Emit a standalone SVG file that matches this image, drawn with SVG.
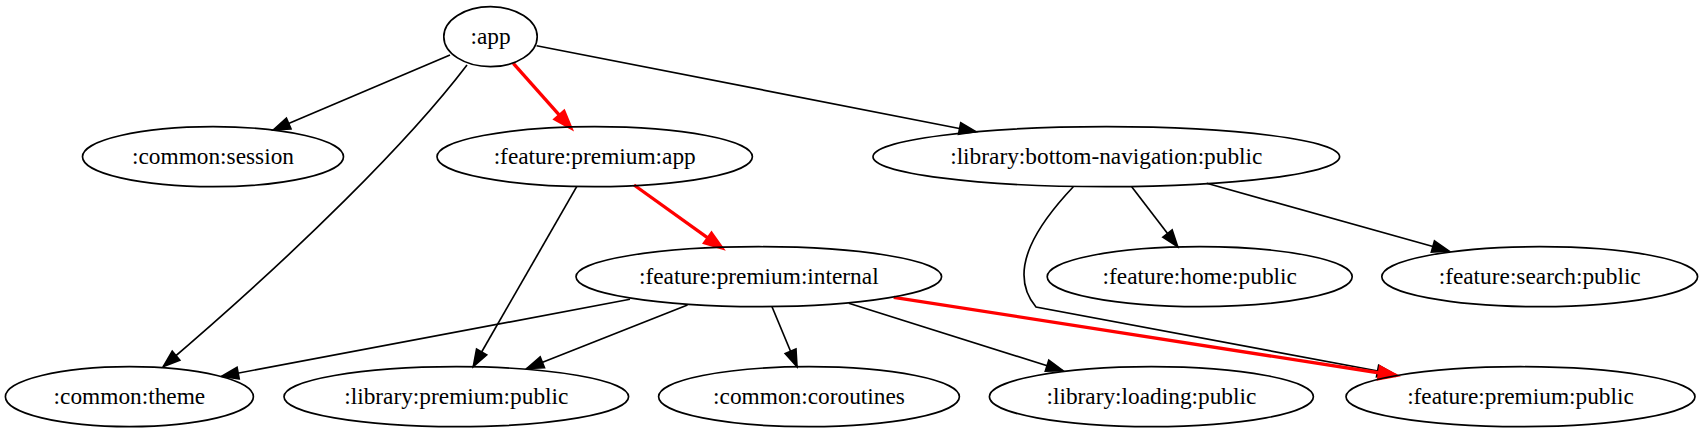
<svg xmlns="http://www.w3.org/2000/svg" width="1705" height="433" viewBox="0 0 1705 433" font-family="'Liberation Serif', 'Times New Roman', Times, serif">
<style>
.n ellipse{fill:none;stroke:#000;stroke-width:1.67}
.n text{font-family:'Liberation Serif','Times New Roman',Times,serif;font-size:23.33px;text-anchor:middle;fill:#000}
.e path{fill:none;stroke:#000;stroke-width:1.67}
.e path.r{stroke:#ff0000;stroke-width:3.33}
</style>
<defs>
<marker id="ab" markerUnits="userSpaceOnUse" markerWidth="30" markerHeight="30" refX="16.7" refY="0" orient="auto" overflow="visible"><path d="M0,-5.83 L16.7,0 L0,5.83 Z" fill="#000" stroke="#000" stroke-width="1.67"/></marker>
<marker id="ar" markerUnits="userSpaceOnUse" markerWidth="30" markerHeight="30" refX="16.7" refY="0" orient="auto" overflow="visible"><path d="M0,-5.83 L16.7,0 L0,5.83 Z" fill="#ff0000" stroke="#ff0000" stroke-width="3.33"/></marker>
</defs>
<rect width="1705" height="433" fill="#fff"/>
<g id="edges" class="e">
<path d="M450,55 L273.3,130" marker-end="url(#ab)"/>
<path d="M467,65 C410,140 300,250 163.3,366.5" marker-end="url(#ab)"/>
<path class="r" d="M513.3,63.3 L570.7,127.8" marker-end="url(#ar)"/>
<path d="M536.6,45.7 L976,131.7" marker-end="url(#ab)"/>
<path d="M576.7,186.7 L473.3,366.5" marker-end="url(#ab)"/>
<path class="r" d="M634,185 L721.7,247.8" marker-end="url(#ar)"/>
<path d="M1131.7,186.7 L1177.7,246.8" marker-end="url(#ab)"/>
<path d="M1206.7,183.3 L1449,251" marker-end="url(#ab)"/>
<path d="M1073.3,186.7 C1040,222 1005,270 1036,307 L1394,374" marker-end="url(#ab)"/>
<path d="M630,299.3 L221.7,376.2" marker-end="url(#ab)"/>
<path d="M687.5,305 L526.8,368.5" marker-end="url(#ab)"/>
<path d="M772,306.7 L797,366.7" marker-end="url(#ab)"/>
<path d="M848.8,303.3 L1063,370.7" marker-end="url(#ab)"/>
<path class="r" d="M893.7,297.3 L1396,375.5" marker-end="url(#ar)"/>
</g>
<g id="app" class="n"><ellipse cx="490.5" cy="36.7" rx="46.7" ry="30"/><text x="490.5" y="43.7">:app</text></g>
<g id="common_session" class="n"><ellipse cx="213" cy="156.7" rx="130.5" ry="30"/><text x="213" y="163.7">:common:session</text></g>
<g id="feature_premium_app" class="n"><ellipse cx="594.7" cy="156.7" rx="157.7" ry="30"/><text x="594.7" y="163.7">:feature:premium:app</text></g>
<g id="library_bottom_navigation_public" class="n"><ellipse cx="1106.3" cy="156.7" rx="233.3" ry="30"/><text x="1106.3" y="163.7">:library:bottom-navigation:public</text></g>
<g id="feature_premium_internal" class="n"><ellipse cx="758.8" cy="276.7" rx="182.8" ry="30"/><text x="758.8" y="283.7">:feature:premium:internal</text></g>
<g id="feature_home_public" class="n"><ellipse cx="1199.7" cy="276.7" rx="152.5" ry="30"/><text x="1199.7" y="283.7">:feature:home:public</text></g>
<g id="feature_search_public" class="n"><ellipse cx="1539.7" cy="276.7" rx="157.9" ry="30"/><text x="1539.7" y="283.7">:feature:search:public</text></g>
<g id="common_theme" class="n"><ellipse cx="129.4" cy="396.7" rx="124" ry="30"/><text x="129.4" y="403.7">:common:theme</text></g>
<g id="library_premium_public" class="n"><ellipse cx="456.3" cy="396.7" rx="172.3" ry="30"/><text x="456.3" y="403.7">:library:premium:public</text></g>
<g id="common_coroutines" class="n"><ellipse cx="809" cy="396.7" rx="150.4" ry="30"/><text x="809" y="403.7">:common:coroutines</text></g>
<g id="library_loading_public" class="n"><ellipse cx="1151.4" cy="396.7" rx="162" ry="30"/><text x="1151.4" y="403.7">:library:loading:public</text></g>
<g id="feature_premium_public" class="n"><ellipse cx="1520.5" cy="396.7" rx="174.5" ry="30"/><text x="1520.5" y="403.7">:feature:premium:public</text></g>
</svg>
